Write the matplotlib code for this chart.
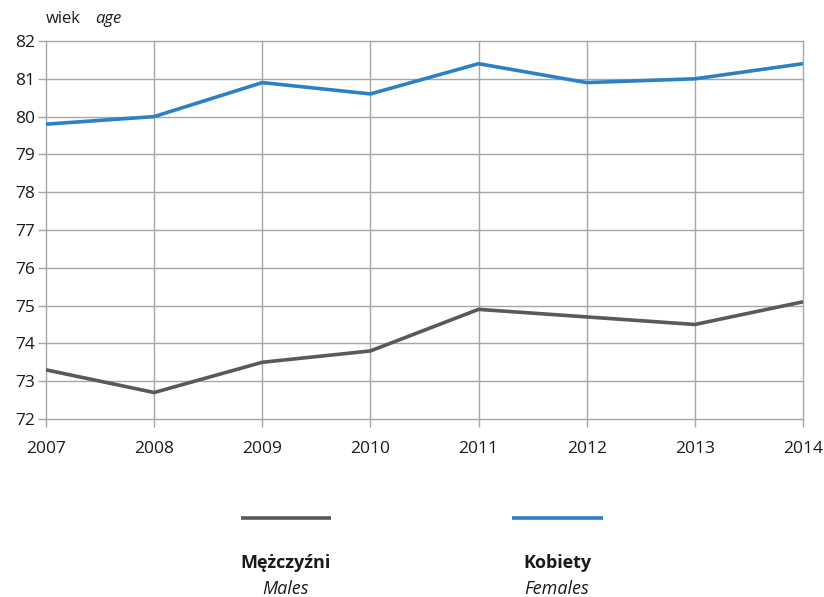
import matplotlib
matplotlib.use("Agg")
import matplotlib.pyplot as plt
from matplotlib.lines import Line2D

plt.rcParams['font.family'] = ['Open Sans', 'DejaVu Sans']

years = [2007, 2008, 2009, 2010, 2011, 2012, 2013, 2014]
males = [73.3, 72.7, 73.5, 73.8, 74.9, 74.7, 74.5, 75.1]
females = [79.8, 80.0, 80.9, 80.6, 81.4, 80.9, 81.0, 81.4]
yticks = [72, 73, 74, 75, 76, 77, 78, 79, 80, 81, 82]

male_color = '#595959'
female_color = '#2e80c4'
grid_color = '#a6a6a6'
text_color = '#1a1a1a'

fig = plt.figure(figsize=(8.24, 5.97), dpi=100)
ax = fig.add_axes([0.0558, 0.2982, 0.9187, 0.6331])

ax.plot(years, males, color=male_color, lw=2.6, solid_capstyle='butt', zorder=3)
ax.plot(years, females, color=female_color, lw=2.6, solid_capstyle='butt', zorder=3)

ax.set_xlim(years[0], years[-1])
ax.set_ylim(72, 82)
ax.set_xticks(years)
ax.set_yticks(yticks)
ax.set_xticklabels([str(y) for y in years], fontsize=12.5, color=text_color)
ax.set_yticklabels([str(v) for v in yticks], fontsize=12.5, color=text_color)
ax.grid(True, color=grid_color, lw=1.0, zorder=0)
for gl in ax.get_xgridlines() + ax.get_ygridlines():
    gl.set_clip_on(False)
for s in ax.spines.values():
    s.set_visible(False)
ax.tick_params(axis='both', length=6, width=1.0, color=grid_color, pad=2)
ax.tick_params(axis='x', pad=10)

fig.text(0.055, 0.968, 'wiek', fontsize=12, color=text_color, ha='left', va='center')
fig.text(0.115, 0.968, 'age', fontsize=12, style='italic', color=text_color, ha='left', va='center')

# legend
ly = 1 - 518/597
fig.add_artist(Line2D([241/824, 331/824], [ly, ly], color=male_color, lw=2.6,
                      transform=fig.transFigure, solid_capstyle='butt'))
fig.add_artist(Line2D([512/824, 603/824], [ly, ly], color=female_color, lw=2.6,
                      transform=fig.transFigure, solid_capstyle='butt'))
fig.text(286/824, 1 - 563/597, 'Mężczyźni', fontsize=13, fontweight='bold', color=text_color, ha='center', va='center')
fig.text(286/824, 1 - 589/597, 'Males', fontsize=13, style='italic', color=text_color, ha='center', va='center')
fig.text(557/824, 1 - 563/597, 'Kobiety', fontsize=13, fontweight='bold', color=text_color, ha='center', va='center')
fig.text(557/824, 1 - 589/597, 'Females', fontsize=13, style='italic', color=text_color, ha='center', va='center')

fig.savefig('out.png', dpi=100)
